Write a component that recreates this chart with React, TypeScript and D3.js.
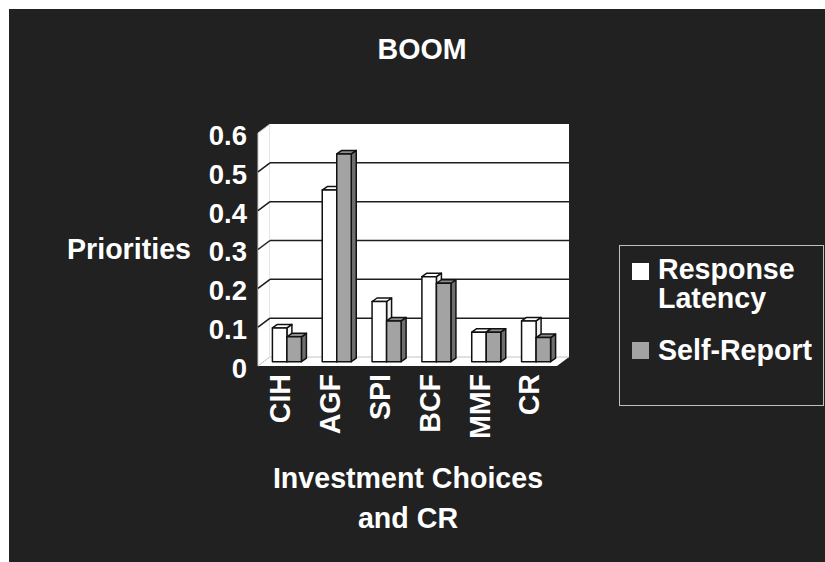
import React from "react";
import * as d3 from "d3";

const categories = ["CIH", "AGF", "SPI", "BCF", "MMF", "CR"];
const seriesNames = ["Response Latency", "Self-Report"];
const responseLatency = [0.087, 0.442, 0.155, 0.219, 0.076, 0.105];
const selfReport = [0.064, 0.535, 0.105, 0.202, 0.076, 0.062];
const yTickValues = [0, 0.1, 0.2, 0.3, 0.4, 0.5, 0.6];
const yTickLabels = ["0", "0.1", "0.2", "0.3", "0.4", "0.5", "0.6"];
const titleText = "BOOM";
const yAxisTitle = "Priorities";
const xAxisTitleLines = ["Investment Choices", "and CR"];

const W = 825;
const H = 562;
const FONT = "'Liberation Sans', Arial, Helvetica, sans-serif";
const FS = 28.6;

// geometry of the 3D box
const FX0 = 258, FX1 = 557;          // front plane x range
const FY0 = 366, FY1 = 133;          // front plane y for 0 and 0.6
const DDX = 12, DDY = -9;            // wall depth offset
const BDX = 4, BDY = -4.3;           // bar plane offset
const CDX = 5, CDY = -3.5;           // bar depth

const seriesFill = ["#ffffff", "#a3a3a3"];
const seriesSide = ["#f2f2f2", "#6e6e6e"];
const seriesTop = ["#ffffff", "#8c8c8c"];

export default function App() {
  const yFront = d3.scaleLinear().domain([0, 0.6]).range([FY0, FY1]);
  const yBack = (v: number) => yFront(v) + DDY;
  const yBar = (v: number) => yFront(v) + BDY;
  const xFront = d3.scaleBand<string>().domain(categories).range([FX0, FX1]).padding(0);
  const xBar = d3.scaleBand<string>().domain(categories).range([FX0 + BDX, FX1 + BDX]).padding(0);
  const x1 = d3
    .scaleBand<string>()
    .domain(seriesNames)
    .range([0, xBar.bandwidth()])
    .paddingInner(0)
    .paddingOuter(0.717);
  const seriesValues = [responseLatency, selfReport];

  const pts = (arr: [number, number][]) => arr.map((p) => p.join(",")).join(" ");

  const top = yFront(0.6);
  const bottom = yFront(0);
  const leftWall: [number, number][] = [
    [FX0, top], [FX0 + DDX, top + DDY], [FX0 + DDX, bottom + DDY], [FX0, bottom],
  ];
  const backWall: [number, number][] = [
    [FX0 + DDX, top + DDY], [FX1 + DDX, top + DDY], [FX1 + DDX, bottom + DDY], [FX0 + DDX, bottom + DDY],
  ];
  const floor: [number, number][] = [
    [FX0, bottom], [FX0 + DDX, bottom + DDY], [FX1 + DDX, bottom + DDY], [FX1, bottom],
  ];

  return (
    <div style={{ position: "absolute", left: 0, top: 0 }}>
      <svg width={W} height={H} style={{ display: "block" }} fontFamily={FONT}>
        <rect x={0} y={0} width={W} height={H} fill="#ffffff" />
        <rect x={9} y={9} width={W - 9} height={H - 9} fill="#212121" />

        <text x={422} y={59} textAnchor="middle" fill="#fff" fontSize={FS} fontWeight="bold">
          {titleText}
        </text>

        {/* walls */}
        <polygon points={pts(leftWall)} fill="#ffffff" stroke="#c8c8c8" strokeWidth={1} />
        <polygon points={pts(backWall)} fill="#ffffff" />
        <polygon points={pts(floor)} fill="#ffffff" />
        <line x1={FX0 + DDX} x2={FX1 + DDX} y1={yBack(0)} y2={yBack(0)} stroke="#c4c4c4" strokeWidth={1.2} />
        <line x1={FX0} x2={FX0 + DDX} y1={yFront(0)} y2={yBack(0)} stroke="#bbbbbb" strokeWidth={1} strokeDasharray="1.5,1.5" />

        {/* gridlines */}
        {yTickValues.filter((v) => v > 0 && v < 0.6).map((v) => (
          <g key={"g" + v}>
            <line x1={FX0 + DDX} x2={FX1 + DDX} y1={yBack(v)} y2={yBack(v)} stroke="#1e1e1e" strokeWidth={1.5} />
            <line x1={FX0} x2={FX0 + DDX} y1={yFront(v)} y2={yBack(v)} stroke="#1e1e1e" strokeWidth={1.5} />
          </g>
        ))}

        {/* bars */}
        {categories.map((c, ci) => (
          <g key={c}>
            {seriesNames.map((s, si) => {
              const v = seriesValues[si][ci];
              const x0 = (xBar(c) as number) + (x1(s) as number);
              const x2 = x0 + x1.bandwidth();
              const yt = yBar(v);
              const yb = yBar(0);
              const front: [number, number][] = [[x0, yt], [x2, yt], [x2, yb], [x0, yb]];
              const side: [number, number][] = [[x2, yt], [x2 + CDX, yt + CDY], [x2 + CDX, yb + CDY], [x2, yb]];
              const topFace: [number, number][] = [[x0, yt], [x0 + CDX, yt + CDY], [x2 + CDX, yt + CDY], [x2, yt]];
              return (
                <g key={s} stroke="#111" strokeWidth={1.5} strokeLinejoin="round">
                  <polygon points={pts(side)} fill={seriesSide[si]} />
                  <polygon points={pts(topFace)} fill={seriesTop[si]} />
                  <polygon points={pts(front)} fill={seriesFill[si]} />
                </g>
              );
            })}
          </g>
        ))}

        {/* y tick labels */}
        {yTickValues.map((v, i) => (
          <text key={"t" + v} x={247} y={yFront(v) + 2} dy="0.36em" textAnchor="end" fill="#fff" fontSize={27.5} fontWeight="bold">
            {yTickLabels[i]}
          </text>
        ))}

        <text x={67} y={259} fill="#fff" fontSize={FS} fontWeight="bold">
          {yAxisTitle}
        </text>

        {/* x labels */}
        {categories.map((c) => {
          const cx = (xFront(c) as number) + xFront.bandwidth() / 2 - 3;
          return (
            <text key={"x" + c} transform={`translate(${cx},374) rotate(-90)`} dy="0.36em" textAnchor="end" fill="#fff" fontSize={FS} fontWeight="bold">
              {c}
            </text>
          );
        })}

        {xAxisTitleLines.map((t, i) => (
          <text key={t} x={408} y={488 + i * 40} textAnchor="middle" fill="#fff" fontSize={FS} fontWeight="bold">
            {t}
          </text>
        ))}

        {/* legend */}
        <rect x={619.5} y={245.5} width={204} height={160} fill="none" stroke="#c0c0c0" strokeWidth={1} />
        <rect x={632} y={263} width={17} height={17} fill={seriesFill[0]} />
        <text x={658} y={279} fill="#fff" fontSize={FS} fontWeight="bold">Response</text>
        <text x={658} y={308} fill="#fff" fontSize={FS} fontWeight="bold">Latency</text>
        <rect x={632} y={342} width={17} height={17} fill={seriesFill[1]} />
        <text x={658} y={360} fill="#fff" fontSize={FS} fontWeight="bold">{seriesNames[1]}</text>
      </svg>
    </div>
  );
}
